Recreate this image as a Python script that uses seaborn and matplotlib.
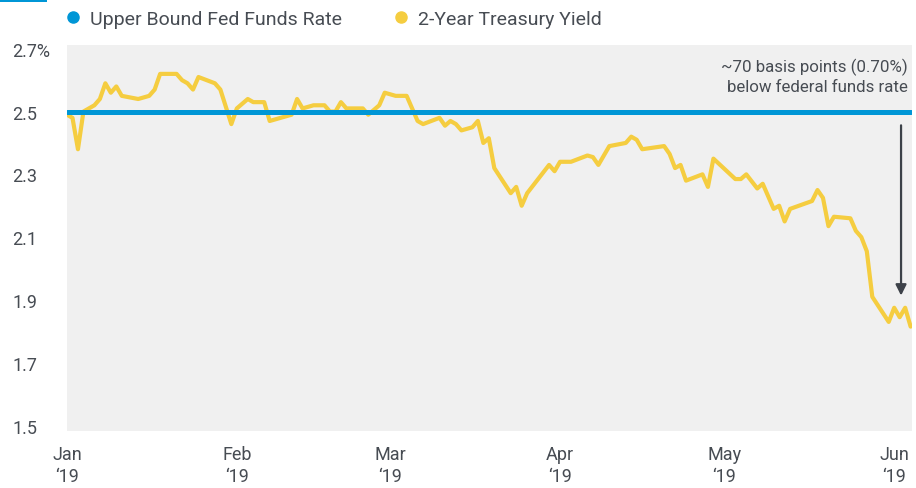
import pandas as pd
import matplotlib.pyplot as plt
import seaborn as sns
from matplotlib.lines import Line2D
from matplotlib.patches import Rectangle

# 2-year treasury yield (percent)
dates = ["2019-01-01", "2019-01-02", "2019-01-03", "2019-01-04", "2019-01-06", "2019-01-07",
         "2019-01-08", "2019-01-09", "2019-01-10", "2019-01-11", "2019-01-14", "2019-01-16",
         "2019-01-17", "2019-01-18", "2019-01-21", "2019-01-22", "2019-01-23", "2019-01-24",
         "2019-01-25", "2019-01-28", "2019-01-29", "2019-01-31", "2019-02-01", "2019-02-03",
         "2019-02-04", "2019-02-06", "2019-02-07", "2019-02-11", "2019-02-12", "2019-02-13",
         "2019-02-15", "2019-02-17", "2019-02-18", "2019-02-19", "2019-02-20", "2019-02-21",
         "2019-02-24", "2019-02-25", "2019-02-27", "2019-02-28", "2019-03-02", "2019-03-04",
         "2019-03-06", "2019-03-07", "2019-03-10", "2019-03-11", "2019-03-12", "2019-03-13",
         "2019-03-14", "2019-03-16", "2019-03-17", "2019-03-18", "2019-03-19", "2019-03-20",
         "2019-03-23", "2019-03-24", "2019-03-25", "2019-03-26", "2019-03-30", "2019-03-31",
         "2019-04-01", "2019-04-03", "2019-04-06", "2019-04-07", "2019-04-08", "2019-04-09",
         "2019-04-10", "2019-04-13", "2019-04-14", "2019-04-15", "2019-04-16", "2019-04-20",
         "2019-04-21", "2019-04-22", "2019-04-23", "2019-04-24", "2019-04-27", "2019-04-28",
         "2019-04-29", "2019-05-03", "2019-05-04", "2019-05-05", "2019-05-07", "2019-05-08",
         "2019-05-10", "2019-05-11", "2019-05-12", "2019-05-13", "2019-05-17", "2019-05-18",
         "2019-05-19", "2019-05-20", "2019-05-21", "2019-05-24", "2019-05-25", "2019-05-26",
         "2019-05-27", "2019-05-28", "2019-05-31", "2019-06-01", "2019-06-02", "2019-06-03",
         "2019-06-04"]
yield_2y = [2.49, 2.48, 2.38, 2.50, 2.52, 2.54,
            2.59, 2.56, 2.58, 2.55, 2.54, 2.55,
            2.57, 2.62, 2.62, 2.60, 2.59, 2.57,
            2.61, 2.59, 2.57, 2.46, 2.51, 2.54,
            2.53, 2.53, 2.47, 2.49, 2.54, 2.51,
            2.52, 2.52, 2.50, 2.50, 2.53, 2.51,
            2.51, 2.49, 2.52, 2.56, 2.55, 2.55,
            2.47, 2.46, 2.48, 2.455, 2.47, 2.46,
            2.44, 2.45, 2.47, 2.40, 2.415, 2.32,
            2.24, 2.26, 2.20, 2.24, 2.33, 2.31,
            2.34, 2.34, 2.36, 2.355, 2.33, 2.36,
            2.39, 2.40, 2.42, 2.41, 2.38, 2.39,
            2.365, 2.32, 2.33, 2.28, 2.30, 2.26,
            2.35, 2.285, 2.285, 2.30, 2.255, 2.27,
            2.19, 2.20, 2.15, 2.19, 2.215, 2.25,
            2.225, 2.135, 2.165, 2.16, 2.12, 2.10,
            2.055, 1.91, 1.83, 1.875, 1.845, 1.875,
            1.815]
# upper bound of the fed funds target range
fed_funds = [2.50] * len(dates)

y_ticks = [1.5, 1.7, 1.9, 2.1, 2.3, 2.5, 2.7]
y_labels = ["1.5", "1.7", "1.9", "2.1", "2.3", "2.5", "2.7%"]
x_ticks = ["2019-01-01", "2019-02-01", "2019-03-01", "2019-04-01", "2019-05-01", "2019-06-01"]
x_labels = ["Jan\n\u201819", "Feb\n\u201819", "Mar\n\u201819", "Apr\n\u201819", "May\n\u201819", "Jun\n\u201819"]

df = pd.DataFrame({"date": pd.to_datetime(dates), "treasury": yield_2y, "fed": fed_funds})

BLUE = "#0096d6"
YELLOW = "#f5cd40"
TEXT = "#474c53"

sns.set_theme(style="white")
plt.rcParams["font.family"] = ["Roboto", "DejaVu Sans"]

fig = plt.figure(figsize=(9.16, 4.89), dpi=100)
ax = fig.add_axes([67 / 916, 1 - 432 / 489, 845 / 916, 386 / 489])
ax.set_facecolor("#f0f0f0")

sns.lineplot(data=df, x="date", y="treasury", ax=ax, color=YELLOW, linewidth=3, zorder=2)
sns.lineplot(data=df, x="date", y="fed", ax=ax, color=BLUE, linewidth=3.6, zorder=3)

ax.set_xlim(df["date"].iloc[0], df["date"].iloc[-1] + pd.Timedelta(hours=6))
ax.set_ylim(1.4825, 2.712)
ax.set_xticks(pd.to_datetime(x_ticks))
ax.set_xticklabels(x_labels, fontsize=13, color=TEXT, linespacing=1.3)
ax.set_yticks(y_ticks)
ax.set_yticklabels(y_labels, fontsize=13, color=TEXT)
for lab in ax.get_yticklabels():
    lab.set_horizontalalignment("left")
ax.tick_params(axis="y", length=0, pad=39.5)
ax.tick_params(axis="x", length=0, pad=10)
ax.set_xlabel("")
ax.set_ylabel("")
for s in ax.spines.values():
    s.set_visible(False)

# arrow + note for the spread
arrow_x = pd.Timestamp("2019-06-02") + pd.Timedelta(hours=6)
ax.annotate("", xy=(arrow_x, 1.905), xytext=(arrow_x, 2.465),
            arrowprops=dict(arrowstyle="-|>", color="#3d4249", lw=1.6, mutation_scale=16))
ax.text(0.995, 0.92, "~70 basis points (0.70%)\nbelow federal funds rate", transform=ax.transAxes,
        ha="right", va="center", fontsize=12.2, color=TEXT, linespacing=1.4)

handles = [Line2D([], [], marker="o", linestyle="none", markersize=8, color=BLUE),
           Line2D([], [], marker="o", linestyle="none", markersize=8, color=YELLOW)]
fig.legend(handles, ["Upper Bound Fed Funds Rate", "2-Year Treasury Yield"],
           loc="center left", bbox_to_anchor=(63 / 916, 1 - 20 / 489), ncol=2, frameon=False,
           fontsize=14, handlelength=1, handletextpad=0.4, columnspacing=2.5,
           borderpad=0, borderaxespad=0, labelcolor=TEXT)

fig.add_artist(Rectangle((0, 1 - 3 / 489), 47 / 916, 3 / 489, transform=fig.transFigure,
                         color=BLUE, lw=0))

fig.savefig("out.png", dpi=100)
